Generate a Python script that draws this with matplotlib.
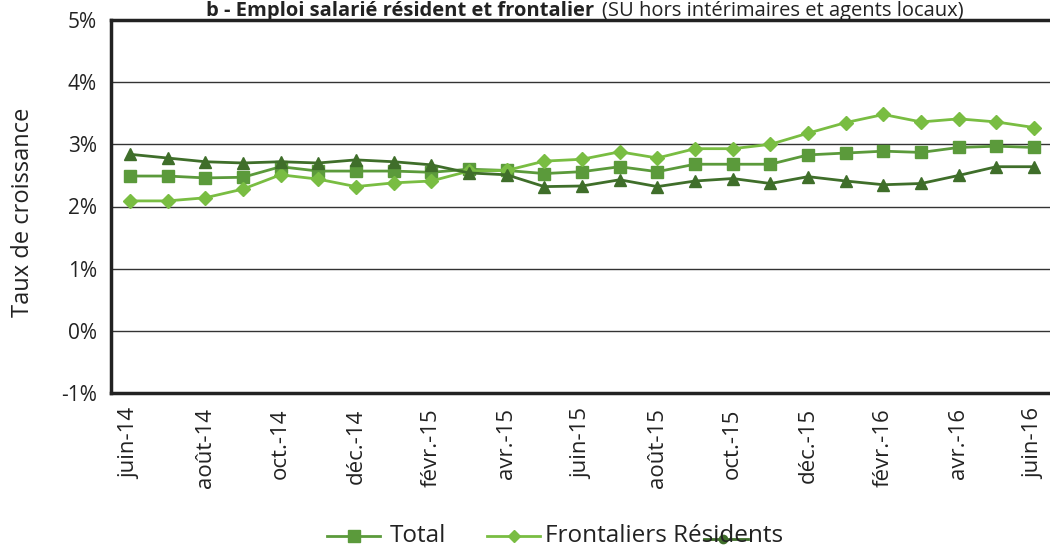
import matplotlib
matplotlib.use("Agg")
import matplotlib.pyplot as plt
from matplotlib.lines import Line2D
import numpy as np

plt.rcParams['font.family'] = ['Open Sans', 'DejaVu Sans']

# Monthly growth rates, June 2014 - June 2016 (%)
months = ["juin-14", "juil.-14", "août-14", "sept.-14", "oct.-14", "nov.-14", "déc.-14",
          "janv.-15", "févr.-15", "mars-15", "avr.-15", "mai-15", "juin-15", "juil.-15",
          "août-15", "sept.-15", "oct.-15", "nov.-15", "déc.-15", "janv.-16", "févr.-16",
          "mars-16", "avr.-16", "mai-16", "juin-16"]
total = [2.49, 2.49, 2.46, 2.47, 2.64, 2.57, 2.57, 2.57, 2.55, 2.60, 2.58, 2.53, 2.56,
         2.64, 2.56, 2.68, 2.68, 2.68, 2.83, 2.86, 2.89, 2.87, 2.95, 2.97, 2.95]
frontaliers = [2.09, 2.09, 2.14, 2.28, 2.51, 2.44, 2.32, 2.38, 2.41, 2.57, 2.58, 2.73,
               2.76, 2.88, 2.78, 2.93, 2.93, 3.00, 3.18, 3.35, 3.48, 3.36, 3.41, 3.36, 3.27]
residents = [2.84, 2.78, 2.72, 2.70, 2.72, 2.70, 2.75, 2.72, 2.67, 2.54, 2.51, 2.32,
             2.33, 2.43, 2.32, 2.41, 2.45, 2.37, 2.48, 2.41, 2.35, 2.37, 2.50, 2.64, 2.64]
tick_labels = months[::2]
y_ticks = [-1, 0, 1, 2, 3, 4, 5]

c_total = "#5b9a3b"
c_front = "#79bd42"
c_res = "#3f6e2a"
text_c = "#222222"

fig = plt.figure(figsize=(10.5, 5.47), dpi=100)
W, H = 1050, 547
ax = fig.add_axes([111 / W, 1 - 393 / H, (1053 - 111) / W, (393 - 20) / H])

x = np.arange(len(months))
ax.plot(x, total, color=c_total, lw=2, marker="s", ms=8, zorder=3)
ax.plot(x, frontaliers, color=c_front, lw=2, marker="D", ms=7, zorder=3)
ax.plot(x, residents, color=c_res, lw=2, marker="^", ms=9, zorder=4)

ax.set_xlim(-0.5, len(months) - 0.5)
ax.set_ylim(-1, 5)
ax.set_yticks(y_ticks)
ax.set_yticklabels([f"{v}%" for v in y_ticks], fontsize=15, color=text_c)
ax.set_xticks(x[::2])
ax.set_xticklabels(tick_labels, rotation=90, fontsize=16, color=text_c)
ax.tick_params(axis="y", length=0, pad=10)
ax.tick_params(axis="x", length=0, pad=11)
for v in y_ticks[1:-1]:
    ax.axhline(v, color="#333333", lw=1, zorder=1)
for side in ["left", "top", "bottom"]:
    ax.spines[side].set_linewidth(2.5)
    ax.spines[side].set_color("#222222")
ax.spines["right"].set_visible(False)

fig.text(23 / W, 1 - 212 / H, "Taux de croissance", fontsize=17, color=text_c,
         rotation=90, ha="center", va="center")

# Title: bold part followed by a regular part, centred as a whole
title_y = 1 - 16 / H
t1 = fig.text(0, title_y, "b - Emploi salarié résident et frontalier", fontsize=14.5,
              fontweight="bold", color=text_c, va="baseline", ha="left")
t2 = fig.text(0, title_y, "(SU hors intérimaires et agents locaux)",
              fontsize=14.5, color=text_c, va="baseline", ha="left")
fig.canvas.draw()
w1 = t1.get_window_extent().width
w2 = t2.get_window_extent().width
gap = 8
start = 585 - (w1 + gap + w2) / 2
t1.set_x(start / W)
t2.set_x((start + w1 + gap) / W)

# Legend
ly = 1 - 536 / H
fig.add_artist(Line2D([327 / W, 353.5 / W, 380 / W], [ly, ly, ly], color=c_total, lw=2,
                      marker="s", ms=8, markevery=[1], transform=fig.transFigure))
fig.text(390 / W, ly, "Total", fontsize=17.5, color=text_c, va="center", ha="left")
fig.add_artist(Line2D([487 / W, 513.5 / W, 540 / W], [ly, ly, ly], color=c_front, lw=2,
                      marker="D", ms=6.5, markevery=[1], transform=fig.transFigure))
fig.text(545 / W, ly, "Frontaliers Résidents", fontsize=17.5, color=text_c, va="center",
         ha="left")
fig.add_artist(Line2D([704 / W, 723 / W, 748 / W], [ly - 3 / H] * 3, color=c_res, lw=2,
                      marker="o", ms=6, markevery=[1], transform=fig.transFigure))

fig.savefig("out.png", dpi=100)
